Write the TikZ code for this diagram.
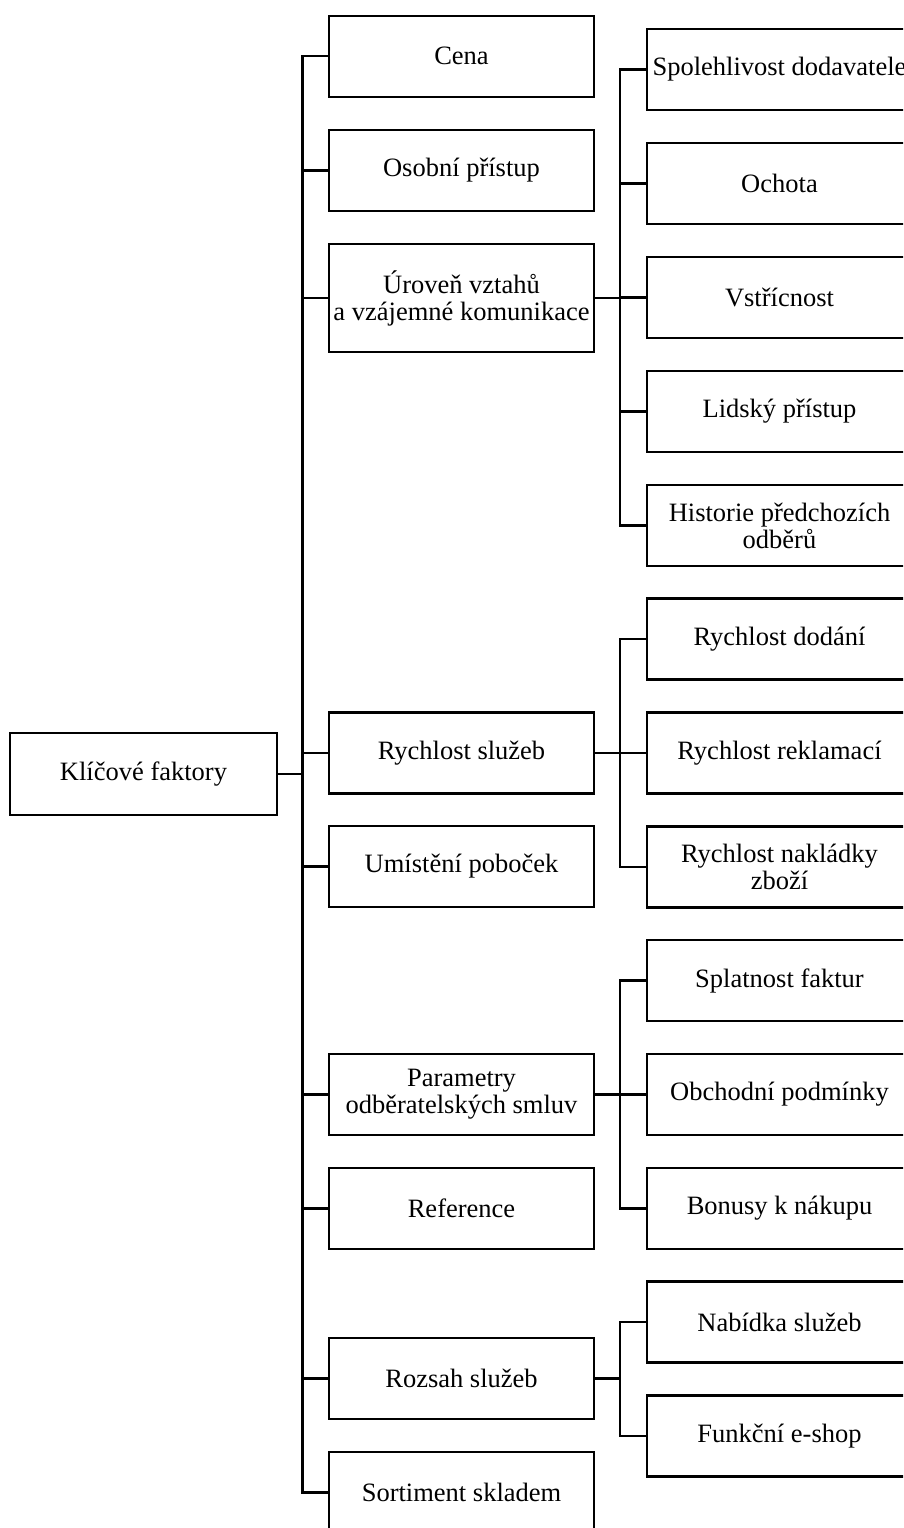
\documentclass[tikz,border=0pt]{standalone}
\usepackage{fontspec}
\setmainfont{Liberation Serif}
\begin{document}
\begin{tikzpicture}[x=1pt,y=-1pt,
  box/.style={draw=black,line width=2.3pt,rectangle,inner sep=0pt,
    minimum width=265pt,minimum height=81pt,align=center,
    font=\fontsize{26.5}{27}\selectfont},
  trunk/.style={draw=black,line width=2.8pt,line cap=rect},
  parentlink/.style={draw=black,line width=2.8pt},
  stub/.style={draw=black,line width=2.3pt}]
\clip (0,0) rectangle (903,1528);
% trunk positions
\coordinate (t1) at (302.7,0);
\coordinate (t2) at (620,0);
% root
\node[box,minimum width=267pt,minimum height=82pt] (root) at (143.5,774) {Klíčové faktory};
% middle column
\node[box] (cena) at (461.5,56.3) {Cena};
\node[box] (osob) at (461.5,170.5) {Osobní přístup};
\node[box,minimum height=108pt] (urov) at (461.5,298) {Úroveň vztahů\\a vzájemné komunikace};
\node[box] (rych) at (461.5,753) {Rychlost služeb};
\node[box] (umis) at (461.5,866.5) {Umístění poboček};
\node[box] (para) at (461.5,1094.5) {Parametry\\odběratelských smluv};
\node[box] (refe) at (461.5,1208.5) {Reference};
\node[box] (rozs) at (461.5,1378.5) {Rozsah služeb};
\node[box] (sort) at (461.5,1492.5) {Sortiment skladem};
% right column
\node[box] (spol) at (779.5,69.5) {Spolehlivost dodavatele};
\node[box] (ocho) at (779.5,183.5) {Ochota};
\node[box] (vstr) at (779.5,297.5) {Vstřícnost};
\node[box] (lids) at (779.5,411.5) {Lidský přístup};
\node[box] (hist) at (779.5,525.5) {Historie předchozích\\odběrů};
\node[box] (dod) at (779.5,639) {Rychlost dodání};
\node[box] (rekl) at (779.5,753) {Rychlost reklamací};
\node[box] (nakl) at (779.5,867) {Rychlost nakládky\\zboží};
\node[box] (spla) at (779.5,980.5) {Splatnost faktur};
\node[box] (obch) at (779.5,1094.5) {Obchodní podmínky};
\node[box] (bonu) at (779.5,1208.5) {Bonusy k nákupu};
\node[box] (nabi) at (779.5,1322) {Nabídka služeb};
\node[box] (funk) at (779.5,1436) {Funkční e-shop};
% root -> middle
\draw[parentlink] (root.east) -- (root.east -| t1);
\draw[trunk] (cena.west -| t1) -- (sort.west -| t1);
\foreach \n in {cena,osob,urov,rych,umis,para,refe,rozs,sort}
  \draw[stub] (\n.west -| t1) -- (\n.west);
% Úroveň group
\draw[parentlink] (urov.east) -- (urov.east -| t2);
\draw[trunk] (spol.west -| t2) -- (hist.west -| t2);
\foreach \n in {spol,ocho,vstr,lids,hist}
  \draw[stub] (\n.west -| t2) -- (\n.west);
% Rychlost group
\draw[parentlink] (rych.east) -- (rych.east -| t2);
\draw[trunk] (dod.west -| t2) -- (nakl.west -| t2);
\foreach \n in {dod,rekl,nakl}
  \draw[stub] (\n.west -| t2) -- (\n.west);
% Parametry group
\draw[parentlink] (para.east) -- (para.east -| t2);
\draw[trunk] (spla.west -| t2) -- (bonu.west -| t2);
\foreach \n in {spla,obch,bonu}
  \draw[stub] (\n.west -| t2) -- (\n.west);
% Rozsah group
\draw[parentlink] (rozs.east) -- (rozs.east -| t2);
\draw[trunk] (nabi.west -| t2) -- (funk.west -| t2);
\foreach \n in {nabi,funk}
  \draw[stub] (\n.west -| t2) -- (\n.west);
\end{tikzpicture}
\end{document}
